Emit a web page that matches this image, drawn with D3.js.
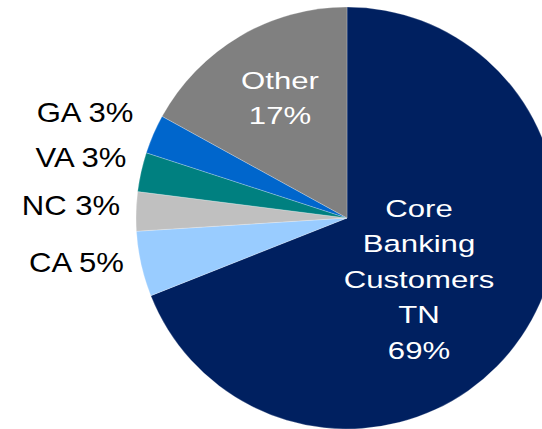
<!DOCTYPE html>
<html>
<head>
<meta charset="utf-8">
<script src="https://cdn.jsdelivr.net/npm/d3@7"></script>
<style>
  html, body { margin: 0; padding: 0; background: #ffffff; }
  svg { display: block; }
  text { font-family: "Liberation Sans", Arial, sans-serif; }
</style>
</head>
<body>
<svg id="chart" width="542" height="429"></svg>
<script>
// Share of core banking customers by state
const categories = ["TN", "CA", "NC", "VA", "GA", "Other"];
const shares = [69, 5, 3, 3, 3, 17];
const labelLines = [
  ["Core", "Banking", "Customers", "TN", "69%"],
  ["CA 5%"],
  ["NC 3%"],
  ["VA 3%"],
  ["GA 3%"],
  ["Other", "17%"]
];
const colors = ["#002060", "#99ccff", "#c0c0c0", "#008080", "#0066cc", "#808080"];

const width = 542, height = 429;
const cx = 347, cy = 218, radius = 211;

const svg = d3.select("#chart");
const g = svg.append("g").attr("transform", `translate(${cx},${cy})`);

const pie = d3.pie().sort(null).value(d => d.value);
const data = pie(categories.map((c, i) => ({ cat: c, value: shares[i], color: colors[i], lines: labelLines[i] })));

const arc = d3.arc().innerRadius(0).outerRadius(radius);

g.selectAll("path.slice")
  .data(data)
  .join("path")
  .attr("class", "slice")
  .attr("d", arc)
  .attr("fill", d => d.data.color)
  .attr("stroke", "#ffffff")
  .attr("stroke-width", 0.4)
  .attr("stroke-opacity", 0.6);

// Label layout: anchor x and first baseline, in page coordinates
const labelLayout = {
  TN:    { x: 419, y: 217, gap: 35.4, size: 24.5, stretch: 1.27, fill: "#ffffff" },
  Other: { x: 280, y: 89,  gap: 34.8, size: 24.5, stretch: 1.27, fill: "#ffffff" },
  GA:    { x: 85,  y: 122, gap: 0, size: 27, stretch: 1.15, fill: "#000000" },
  VA:    { x: 81,  y: 167, gap: 0, size: 27, stretch: 1.15, fill: "#000000" },
  NC:    { x: 71,  y: 215, gap: 0, size: 27, stretch: 1.15, fill: "#000000" },
  CA:    { x: 76.5, y: 272, gap: 0, size: 27, stretch: 1.15, fill: "#000000" }
};

const labels = svg.append("g");
data.forEach(d => {
  const L = labelLayout[d.data.cat];
  d.data.lines.forEach((line, i) => {
    labels.append("text")
      .attr("transform", `translate(${L.x},${L.y + i * L.gap}) scale(${L.stretch},1)`)
      .attr("text-anchor", "middle")
      .attr("fill", L.fill)
      .attr("font-size", L.size)
      .text(line);
  });
});
</script>
</body>
</html>
